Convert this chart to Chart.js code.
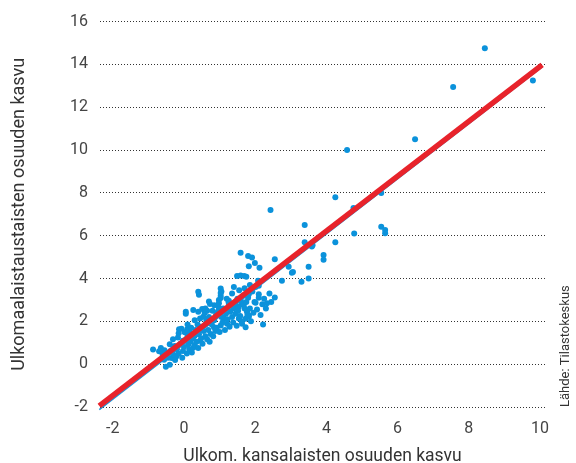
<!DOCTYPE html>
<html>
<head>
<meta charset="utf-8">
<script src="https://cdn.jsdelivr.net/npm/chart.js@4"></script>
<style>
  html, body { margin: 0; padding: 0; background: #fff; }
  #wrap { width: 576px; height: 463px; }
</style>
</head>
<body>
<div id="wrap"><canvas id="chart" width="576" height="463"></canvas></div>
<script>
// axis ticks
const xTicks = [-2, 0, 2, 4, 6, 8, 10];
const yTicks = [-2, 0, 2, 4, 6, 8, 10, 12, 14, 16];

const xTitle = 'Ulkom. kansalaisten osuuden kasvu';
const yTitle = 'Ulkomaalaistaustaisten osuuden kasvu';
const sourceText = 'Lähde: Tilastokeskus';

// scatter points (x = ulkom. kansalaiset, y = ulkomaalaistaustaiset)
const pointX = [
  8.45, 7.56, 9.8, 6.49, 4.58, 4.25, 4.76, 5.54, 3.39, 3.39,
  3.59, 4.25, 4.78, 5.54, 5.65, 5.65, 2.43, 3.61, 3.92, 3.92,
  2.55, 3.06, 3.5, 3.5, 3.3, 2.75, 2.55, 2.22, 1.59, 1.8,
  1.91, 1.82, 1.99, 2.12, 2.08, 2.01, 2.1, 1.82, 2.1, 2.01,
  2.2, 2.33, 1.77, 1.82, 1.73, 0.42, 1.05, 1.03, 0.98, 0.73,
  0.51, 0.65, 3.03, 2.94, 1.26, 1.45, 1.63,
  1.49, 1.59, 1.69, 1.75, 0.40, 1.03, 1.03, 1.03, 0.70, 0.98,
  0.98, 0.05, 0.26, 0.40, 0.45, 0.54, 0.63, 1.26, 1.40, 1.54,
  1.68, 1.77, 1.82, 1.54, 1.63, 1.73, 1.12, 1.21, 1.03, 0.84,
  0.75, 0.65, -0.07, 0.02, 0.16, 0.30, -0.31, -0.17, -0.03, -0.40,
  -0.26, 0.12, 0.26, 0.45, -0.03, -0.21, -0.35, -0.87, -0.65, -0.56,
  -0.51, -0.40, 0.05, 0.09, -0.14,
  -0.6, -0.5, -0.45, -0.38, -0.3, -0.25, -0.2, -0.15, -0.1, -0.05,
  0.0, 0.05, 0.08, 0.1, 0.15, 0.18, 0.2, 0.22, 0.25, 0.3,
  0.32, 0.35, 0.38, 0.4, 0.42, 0.48, 0.5, 0.52, 0.55, 0.58,
  0.6, 0.62, 0.68, 0.7, 0.72, 0.78, 0.8, 0.82, 0.85, 0.88,
  0.9, 0.92, 0.95, 1.0, 1.05, 1.08, 1.1, 1.15, 1.18, 1.22,
  1.25, 1.28, 1.3, 1.35, 1.38, 1.42, 1.45, 1.48, 1.5, 1.52,
  1.58, 1.6, 1.62, 1.66, 1.7, 1.75, 1.78, 1.8, 1.85, 1.88,
  1.92, 1.95, 1.98, 2.05, 2.1, 2.15, 2.25, 2.3, 2.4, 2.45,
  1.35, 1.2, 1.4, 1.55, 1.7, 1.85, 0.85, 0.6, 0.3, 0.1,
  -0.15, -0.3, -0.55, -0.7
];
const pointY = [
  14.75, 12.95, 13.25, 10.5, 10.0, 7.8, 7.3, 8.0, 6.5, 5.7,
  5.5, 5.7, 6.1, 6.42, 6.27, 6.12, 7.2, 5.55, 5.1, 4.88,
  4.9, 4.3, 4.55, 4.0, 3.85, 3.9, 3.12, 1.85, 5.2, 5.05,
  4.98, 4.57, 4.73, 4.5, 3.9, 3.6, 3.66, 3.27, 3.27, 2.87,
  2.8, 2.85, 2.5, 2.27, 2.12, 3.24, 3.39, 3.2, 3.0, 2.81,
  2.58, 2.5, 4.27, 4.55, 2.96, 2.88, 2.81,
  4.12, 4.14, 4.12, 4.08, 3.38, 3.54, 3.33, 3.09, 2.93, 2.85,
  2.64, 2.45, 2.53, 2.45, 2.13, 2.21, 2.05, 2.77, 2.61, 2.69,
  2.77, 2.45, 2.21, 2.13, 1.89, 1.73, 2.13, 1.89, 1.81, 1.73,
  1.41, 1.17, 1.65, 1.49, 1.49, 1.33, 1.17, 1.25, 1.09, 0.93,
  0.85, 0.93, 0.77, 1.09, 0.61, 0.37, 0.29, 0.69, 0.75, 0.21,
  -0.12, -0.03, 2.35, 1.63, 1.63,
  0.45, 0.55, 0.3, 0.62, 0.45, 0.2, 0.7, 0.5, 0.95, 0.3,
  0.8, 1.15, 0.5, 1.3, 0.7, 1.05, 1.7, 0.55, 1.2, 0.9,
  1.6, 1.05, 1.85, 0.75, 1.4, 1.2, 1.75, 0.95, 1.55, 2.4,
  1.3, 1.9, 1.6, 2.2, 1.05, 1.85, 2.5, 1.3, 2.05, 1.55,
  2.3, 1.7, 2.45, 1.5, 2.2, 1.95, 2.6, 1.6, 2.35, 2.1,
  2.9, 1.75, 2.45, 2.2, 1.95, 2.85, 2.35, 1.8, 3.05, 2.5,
  2.25, 2.95, 2.0, 3.2, 2.6, 2.9, 2.3, 3.1, 2.6, 2.0,
  3.4, 2.4, 2.9, 2.55, 3.1, 2.3, 3.05, 2.6, 3.3, 2.9,
  3.3, 3.05, 3.6, 3.45, 3.55, 3.7, 2.75, 2.6, 2.05, 1.85,
  1.45, 0.8, 0.65, 0.6
];

// fitted lines (end points)
const blueLineX = [-2.38, 10.06];
const blueLineY = [-2.12, 13.88];
const redLineX = [-2.38, 10.06];
const redLineY = [-1.95, 13.98];

const toXY = (xs, ys) => xs.map((x, i) => ({ x: x, y: ys[i] }));

const sourcePlugin = {
  id: 'source',
  afterDraw(chart) {
    const ctx = chart.ctx;
    ctx.save();
    ctx.translate(566, chart.chartArea.bottom);
    ctx.rotate(-Math.PI / 2);
    ctx.font = '13px Roboto';
    ctx.fillStyle = '#333';
    ctx.textAlign = 'left';
    ctx.textBaseline = 'middle';
    ctx.fillText(sourceText, 0, 0);
    ctx.restore();
  }
};

const tickFont = { family: "'Liberation Sans Narrow', Roboto, sans-serif", size: 16 };

new Chart(document.getElementById('chart'), {
  type: 'scatter',
  data: {
    datasets: [
      {
        type: 'line',
        data: toXY(redLineX, redLineY),
        borderColor: '#e8232b',
        borderWidth: 5.5,
        pointRadius: 0,
        borderCapStyle: 'butt',
        clip: false,
        order: 0
      },
      {
        type: 'line',
        data: toXY(blueLineX, blueLineY),
        borderColor: '#1a93d6',
        borderWidth: 1.5,
        pointRadius: 0,
        clip: false,
        order: 1
      },
      {
        data: toXY(pointX, pointY),
        backgroundColor: '#0b92db',
        borderWidth: 0,
        pointRadius: 3,
        order: 2
      }
    ]
  },
  options: {
    responsive: false,
    animation: false,
    layout: { padding: { left: 0, right: 31, top: 18, bottom: 0 } },
    plugins: {
      legend: { display: false },
      tooltip: { enabled: false }
    },
    scales: {
      x: {
        type: 'linear',
        min: -2.36,
        max: 10.14,
        afterBuildTicks: s => { s.ticks = xTicks.map(v => ({ value: v })); },
        afterFit: s => { s.height = 56; },
        grid: { display: false },
        border: { display: false },
        ticks: {
          padding: 4,
          color: '#444',
          font: tickFont,
          callback: v => String(v)
        },
        title: {
          display: true,
          text: xTitle,
          color: '#333',
          font: { family: 'Roboto, sans-serif', size: 17.5 },
          padding: { top: 0, bottom: -4 }
        }
      },
      y: {
        min: -2,
        max: 16,
        afterBuildTicks: s => { s.ticks = yTicks.map(v => ({ value: v })); },
        afterFit: s => { s.width = 100; },
        grid: { color: '#333', lineWidth: 1, drawTicks: false },
        border: { display: false, dash: [1, 2] },
        ticks: {
          padding: 12,
          color: '#444',
          font: tickFont,
          callback: v => String(v)
        },
        title: {
          display: true,
          text: yTitle,
          color: '#333',
          font: { family: 'Roboto, sans-serif', size: 18 },
          padding: { top: 9, bottom: 0 }
        }
      }
    }
  },
  plugins: [sourcePlugin]
});
</script>
</body>
</html>
